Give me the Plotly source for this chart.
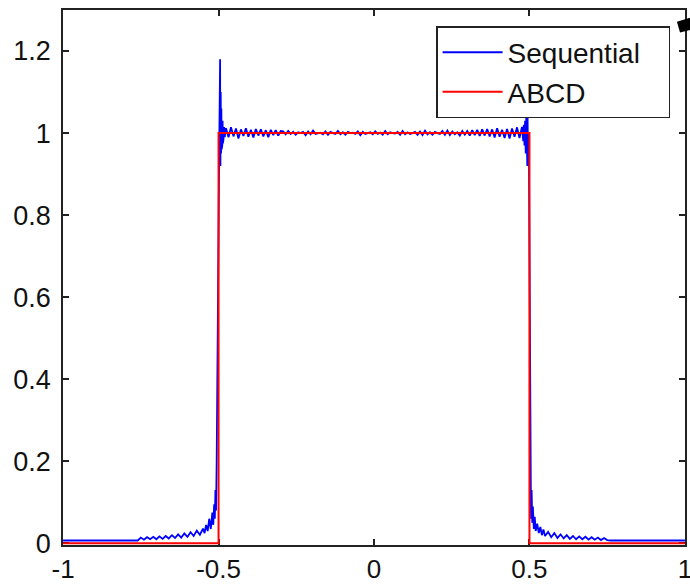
import numpy as np
import plotly.graph_objects as go

# ---------------- data ----------------
# Sequential: left tail (rising into the -0.5 edge)
left_tail_x = [-1.0, -0.76, -0.75, -0.74, -0.73, -0.72, -0.71, -0.70, -0.69, -0.68, -0.67,
               -0.66, -0.65, -0.64, -0.63, -0.62, -0.61, -0.60, -0.59, -0.58, -0.57, -0.56,
               -0.55, -0.545, -0.54, -0.535, -0.53, -0.525, -0.52, -0.517, -0.514, -0.512,
               -0.51, -0.508, -0.506, -0.504]
left_tail_y = [0.007, 0.007, 0.014, 0.009, 0.015, 0.010, 0.016, 0.010, 0.017, 0.011, 0.018,
               0.012, 0.020, 0.013, 0.022, 0.014, 0.024, 0.016, 0.027, 0.018, 0.031, 0.021,
               0.036, 0.025, 0.045, 0.030, 0.060, 0.035, 0.075, 0.045, 0.095, 0.060,
               0.130, 0.080, 0.200, 0.453]

# Sequential: ringing just inside the left edge
left_ring_x = [-0.498, -0.496, -0.495, -0.4945, -0.494, -0.493, -0.492, -0.491, -0.490,
               -0.489, -0.488, -0.487, -0.486, -0.485, -0.484, -0.482, -0.480]
left_ring_y = [0.95, 1.10, 1.18, 1.00, 0.92, 1.10, 0.95, 1.06, 0.96, 1.04, 0.97, 1.03,
               0.975, 1.02, 0.985, 1.015, 0.99]

# Sequential: plateau ripple (deviation from 1, in thousandths), -0.476 .. 0.476
plateau_dev = [12, -10, 14, -8, 11, -13, 9, -7, 12, -9, 8, -11, 10, -6, 9, -8, 7, -10, 8, -5, 7, -6, 5,
               4, -3, 5, -2, 3, -4, 2, 0, 3, -5, 4, -3, 6, -2, 0, 1, -3, 4, -4, 3, 0, -2, 5, -3, 2, -4,
               3, 0, 1, -2, 4, -5, 3, -2, 0, 2, -3, 4, -2, 1, -4, 5, -3, 2, 0, -1, 3, -4, 5, -3, 2, -2,
               0, 3, -4, 4, -5, 6, -3, 2, -4, 3, 0, -2, 5, -4, 6, -5, 4, -3, 2, -6, 5, -4,
               5, -6, 7, -5, 8, -7, 9, -6, 10, -8, 9, -11, 12, -9, 8, -12, 10, -13, 11, -9, 14, -12, 15]
plateau_start, plateau_end = -0.476, 0.476

# Sequential: ringing just inside the right edge
right_ring_x = [0.480, 0.482, 0.484, 0.486, 0.488, 0.490, 0.491, 0.492, 0.493, 0.494, 0.495,
                0.496, 0.497, 0.498]
right_ring_y = [0.98, 1.02, 0.97, 1.03, 0.95, 1.055, 0.93, 1.05, 0.92, 1.04, 0.95, 1.03, 0.97, 1.0]

# Sequential: right tail (decaying after the +0.5 edge)
right_tail_x = [0.503, 0.505, 0.507, 0.509, 0.511, 0.514, 0.517, 0.52, 0.525, 0.53, 0.535,
                0.54, 0.545, 0.55, 0.56, 0.57, 0.58, 0.59, 0.60, 0.61, 0.62, 0.63, 0.64, 0.65,
                0.66, 0.67, 0.68, 0.69, 0.70, 0.71, 0.72, 0.73, 0.74, 0.75, 0.76, 1.0]
right_tail_y = [0.453, 0.060, 0.130, 0.050, 0.090, 0.035, 0.065, 0.030, 0.048, 0.025, 0.040,
                0.020, 0.034, 0.018, 0.028, 0.015, 0.025, 0.013, 0.022, 0.012, 0.020, 0.011,
                0.018, 0.010, 0.017, 0.010, 0.016, 0.009, 0.015, 0.009, 0.014, 0.008, 0.013,
                0.008, 0.007, 0.007]

# ABCD: ideal rectangular response
abcd_x = [-1.0, -0.5, -0.5, 0.5, 0.5, 1.0]
abcd_y = [0.0, 0.0, 1.0, 1.0, 0.0, 0.0]

x_tickvals = [-1, -0.5, 0, 0.5, 1]
x_ticktext = ["-1", "-0.5", "0", "0.5", "1"]
y_tickvals = [0, 0.2, 0.4, 0.6, 0.8, 1.0, 1.2]
y_ticktext = ["0", "0.2", "0.4", "0.6", "0.8", "1", "1.2"]

# ---------------- build series ----------------
plateau_x = list(np.linspace(plateau_start, plateau_end, len(plateau_dev)))
plateau_y = [1 + d / 1000 for d in plateau_dev]

seq_x = left_tail_x + left_ring_x + plateau_x + right_ring_x + right_tail_x
seq_y = left_tail_y + left_ring_y + plateau_y + right_ring_y + right_tail_y

FONT = "Liberation Sans, Arial, sans-serif"
PAD = "\u00a0" * 3

fig = go.Figure()
fig.add_trace(go.Scatter(x=seq_x, y=seq_y, mode="lines", name="Sequential" + PAD,
                         line=dict(color="#0000ff", width=1.8)))
fig.add_trace(go.Scatter(x=abcd_x, y=abcd_y, mode="lines", name="ABCD",
                         line=dict(color="#ff0000", width=2)))

axis_common = dict(showgrid=False, zeroline=False, showline=True, linecolor="#222",
                   linewidth=1.5, mirror="ticks", ticks="inside", ticklen=6,
                   tickcolor="#222", tickwidth=1.5, layer="below traces",
                   automargin=False, ticklabeloverflow="allow")

fig.update_xaxes(range=[-1.0003, 1.0003], tickvals=x_tickvals, ticktext=x_ticktext,
                 ticklabelstandoff=0, tickfont=dict(family=FONT, size=26, color="#111"),
                 **axis_common)
fig.update_yaxes(range=[-0.004, 1.3], tickvals=y_tickvals, ticktext=y_ticktext,
                 ticklabelstandoff=5, tickfont=dict(family=FONT, size=27, color="#111"),
                 **axis_common)

fig.update_layout(
    width=690, height=587,
    margin=dict(l=63, r=5, t=10, b=42),
    paper_bgcolor="white", plot_bgcolor="white",
    showlegend=True,
    legend=dict(x=0.976, y=0.970, xanchor="right", yanchor="top",
                bgcolor="white", bordercolor="#222", borderwidth=1.5,
                font=dict(family=FONT, size=28, color="#111"),
                tracegroupgap=0, itemwidth=60),
    shapes=[dict(type="path", xref="paper", yref="paper",
                 path="M 0.987 0.978 L 1.01 0.986 L 1.01 0.963 L 0.992 0.958 Z",
                 fillcolor="black", line=dict(width=0))],
)

fig.write_html("out.html")
